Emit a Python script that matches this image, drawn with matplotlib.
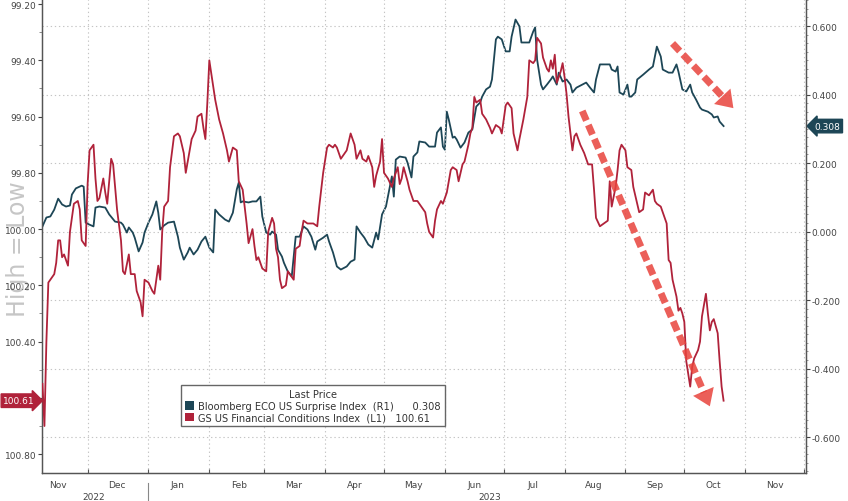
import numpy as np
import pandas as pd
import matplotlib
matplotlib.use('Agg')
import matplotlib.pyplot as plt
import matplotlib.dates as mdates
import matplotlib.transforms as mtransforms
from matplotlib.patches import Patch

# GS US Financial Conditions Index (left axis, inverted)
red_dates = [
    '2022-11-08', '2022-11-09', '2022-11-10', '2022-11-11', '2022-11-14', '2022-11-15', '2022-11-16',
    '2022-11-17', '2022-11-18', '2022-11-19', '2022-11-21', '2022-11-22', '2022-11-24', '2022-11-26',
    '2022-11-27', '2022-11-28', '2022-11-30', '2022-12-01', '2022-12-02', '2022-12-04', '2022-12-05',
    '2022-12-06', '2022-12-07', '2022-12-09', '2022-12-10', '2022-12-11', '2022-12-13', '2022-12-14',
    '2022-12-16', '2022-12-18', '2022-12-19', '2022-12-20', '2022-12-22', '2022-12-23', '2022-12-25',
    '2022-12-26', '2022-12-28', '2022-12-29', '2022-12-30', '2023-01-01', '2023-01-03', '2023-01-04',
    '2023-01-06', '2023-01-07', '2023-01-08', '2023-01-09', '2023-01-11', '2023-01-12', '2023-01-14',
    '2023-01-16', '2023-01-17', '2023-01-19', '2023-01-20', '2023-01-21', '2023-01-23', '2023-01-25',
    '2023-01-26', '2023-01-28', '2023-01-29', '2023-01-30', '2023-01-31', '2023-02-01', '2023-02-04',
    '2023-02-06', '2023-02-08', '2023-02-10', '2023-02-11', '2023-02-13', '2023-02-15', '2023-02-16',
    '2023-02-18', '2023-02-20', '2023-02-21', '2023-02-23', '2023-02-24', '2023-02-25', '2023-02-26',
    '2023-02-28', '2023-03-02', '2023-03-03', '2023-03-05', '2023-03-06', '2023-03-07', '2023-03-08',
    '2023-03-09', '2023-03-10', '2023-03-12', '2023-03-13', '2023-03-15', '2023-03-16', '2023-03-17',
    '2023-03-19', '2023-03-20', '2023-03-21', '2023-03-23', '2023-03-24', '2023-03-26', '2023-03-28',
    '2023-03-29', '2023-03-31', '2023-04-02', '2023-04-03', '2023-04-05', '2023-04-06', '2023-04-07',
    '2023-04-09', '2023-04-11', '2023-04-12', '2023-04-14', '2023-04-15', '2023-04-16', '2023-04-17',
    '2023-04-19', '2023-04-20', '2023-04-22', '2023-04-23', '2023-04-25', '2023-04-26', '2023-04-27',
    '2023-04-29', '2023-04-30', '2023-05-01', '2023-05-02', '2023-05-03', '2023-05-05', '2023-05-06',
    '2023-05-08', '2023-05-09', '2023-05-10', '2023-05-11', '2023-05-13', '2023-05-14', '2023-05-16',
    '2023-05-18', '2023-05-20', '2023-05-22', '2023-05-23', '2023-05-24', '2023-05-26', '2023-05-27',
    '2023-05-28', '2023-05-30', '2023-05-31', '2023-06-02', '2023-06-03', '2023-06-04', '2023-06-05',
    '2023-06-07', '2023-06-08', '2023-06-10', '2023-06-11', '2023-06-13', '2023-06-14', '2023-06-15',
    '2023-06-16', '2023-06-17', '2023-06-19', '2023-06-20', '2023-06-22', '2023-06-24', '2023-06-25',
    '2023-06-27', '2023-06-29', '2023-06-30', '2023-07-02', '2023-07-03', '2023-07-05', '2023-07-06',
    '2023-07-08', '2023-07-09', '2023-07-11', '2023-07-13', '2023-07-14', '2023-07-16', '2023-07-17',
    '2023-07-18', '2023-07-20', '2023-07-21', '2023-07-23', '2023-07-24', '2023-07-25', '2023-07-26',
    '2023-07-27', '2023-07-28', '2023-07-30', '2023-07-31', '2023-08-01', '2023-08-02', '2023-08-03',
    '2023-08-05', '2023-08-06', '2023-08-07', '2023-08-09', '2023-08-11', '2023-08-13', '2023-08-15',
    '2023-08-16', '2023-08-17', '2023-08-19', '2023-08-21', '2023-08-23', '2023-08-24', '2023-08-25',
    '2023-08-27', '2023-08-28', '2023-08-29', '2023-08-30', '2023-09-01', '2023-09-02', '2023-09-04',
    '2023-09-05', '2023-09-07', '2023-09-08', '2023-09-10', '2023-09-11', '2023-09-13', '2023-09-15',
    '2023-09-16', '2023-09-17', '2023-09-19', '2023-09-20', '2023-09-22', '2023-09-23', '2023-09-24',
    '2023-09-25', '2023-09-27', '2023-09-28', '2023-09-29', '2023-09-30', '2023-10-01', '2023-10-02',
    '2023-10-04', '2023-10-05', '2023-10-06', '2023-10-08', '2023-10-09', '2023-10-10', '2023-10-12',
    '2023-10-13', '2023-10-14', '2023-10-15', '2023-10-16', '2023-10-18', '2023-10-19', '2023-10-20',
    '2023-10-21',
]
red_vals = [
    100.55, 100.70, 100.40, 100.19, 100.16, 100.12, 100.04,
    100.04, 100.10, 100.09, 100.13, 100.01, 99.91, 99.90,
    99.93, 100.04, 100.06, 99.84, 99.72, 99.70, 99.82,
    99.90, 99.89, 99.82, 99.87, 99.91, 99.75, 99.77,
    99.93, 100.04, 100.15, 100.16, 100.09, 100.16, 100.16,
    100.22, 100.26, 100.31, 100.18, 100.19, 100.22, 100.23,
    100.13, 100.18, 100.01, 99.92, 99.90, 99.78, 99.67,
    99.66, 99.67, 99.73, 99.80, 99.76, 99.68, 99.65,
    99.60, 99.59, 99.64, 99.68, 99.55, 99.40, 99.54,
    99.61, 99.66, 99.72, 99.76, 99.71, 99.72, 99.83,
    99.86, 99.98, 100.05, 100.00, 100.06, 100.11, 100.10,
    100.14, 100.15, 100.01, 99.96, 99.98, 100.07, 100.10,
    100.18, 100.21, 100.20, 100.15, 100.17, 100.18, 100.07,
    100.06, 100.01, 99.97, 99.98, 99.98, 99.98, 99.99,
    99.92, 99.80, 99.71, 99.70, 99.71, 99.70, 99.71,
    99.75, 99.73, 99.72, 99.66, 99.68, 99.70, 99.75,
    99.72, 99.75, 99.76, 99.74, 99.78, 99.85, 99.81,
    99.76, 99.68, 99.80, 99.81, 99.82, 99.85, 99.82,
    99.78, 99.84, 99.82, 99.78, 99.83, 99.86, 99.90,
    99.90, 99.92, 99.94, 99.98, 100.01, 100.03, 99.97,
    99.93, 99.90, 99.91, 99.87, 99.83, 99.79, 99.78,
    99.79, 99.83, 99.77, 99.76, 99.70, 99.66, 99.64,
    99.53, 99.55, 99.54, 99.59, 99.61, 99.64, 99.66,
    99.63, 99.64, 99.66, 99.56, 99.55, 99.57, 99.66,
    99.72, 99.68, 99.61, 99.53, 99.40, 99.41, 99.40,
    99.32, 99.34, 99.39, 99.43, 99.44, 99.40, 99.43,
    99.38, 99.48, 99.44, 99.41, 99.46, 99.52, 99.60,
    99.72, 99.67, 99.66, 99.70, 99.73, 99.77, 99.77,
    99.86, 99.96, 99.99, 99.98, 99.97, 99.83, 99.92,
    99.85, 99.79, 99.72, 99.70, 99.72, 99.78, 99.79,
    99.85, 99.91, 99.94, 99.93, 99.87, 99.88, 99.86,
    99.90, 99.91, 99.92, 99.94, 99.98, 100.11, 100.12,
    100.18, 100.24, 100.29, 100.28, 100.30, 100.33, 100.47,
    100.56, 100.49, 100.46, 100.43, 100.40, 100.31, 100.23,
    100.30, 100.36, 100.33, 100.32, 100.37, 100.47, 100.56,
    100.61,
]

# Bloomberg ECO US Surprise Index (right axis)
blue_dates = [
    '2022-11-08', '2022-11-10', '2022-11-12', '2022-11-14', '2022-11-16', '2022-11-18', '2022-11-20',
    '2022-11-22', '2022-11-23', '2022-11-25', '2022-11-28', '2022-11-29', '2022-11-30', '2022-12-02',
    '2022-12-04', '2022-12-05', '2022-12-07', '2022-12-10', '2022-12-12', '2022-12-15', '2022-12-18',
    '2022-12-19', '2022-12-21', '2022-12-22', '2022-12-24', '2022-12-25', '2022-12-27', '2022-12-29',
    '2022-12-30', '2023-01-01', '2023-01-03', '2023-01-05', '2023-01-06', '2023-01-07', '2023-01-09',
    '2023-01-11', '2023-01-14', '2023-01-16', '2023-01-17', '2023-01-19', '2023-01-21', '2023-01-22',
    '2023-01-24', '2023-01-26', '2023-01-28', '2023-01-30', '2023-02-01', '2023-02-03', '2023-02-04',
    '2023-02-06', '2023-02-09', '2023-02-11', '2023-02-13', '2023-02-15', '2023-02-16', '2023-02-17',
    '2023-02-18', '2023-02-21', '2023-02-23', '2023-02-25', '2023-02-27', '2023-02-28', '2023-03-02',
    '2023-03-04', '2023-03-05', '2023-03-07', '2023-03-08', '2023-03-10', '2023-03-11', '2023-03-13',
    '2023-03-15', '2023-03-16', '2023-03-17', '2023-03-19', '2023-03-21', '2023-03-23', '2023-03-25',
    '2023-03-27', '2023-03-28', '2023-03-31', '2023-04-02', '2023-04-03', '2023-04-05', '2023-04-07',
    '2023-04-09', '2023-04-12', '2023-04-14', '2023-04-16', '2023-04-17', '2023-04-19', '2023-04-21',
    '2023-04-23', '2023-04-25', '2023-04-27', '2023-04-28', '2023-04-30', '2023-05-02', '2023-05-03',
    '2023-05-05', '2023-05-06', '2023-05-07', '2023-05-09', '2023-05-12', '2023-05-13', '2023-05-15',
    '2023-05-16', '2023-05-18', '2023-05-19', '2023-05-22', '2023-05-24', '2023-05-27', '2023-05-28',
    '2023-05-30', '2023-05-31', '2023-06-01', '2023-06-02', '2023-06-03', '2023-06-05', '2023-06-06',
    '2023-06-07', '2023-06-09', '2023-06-11', '2023-06-13', '2023-06-15', '2023-06-17', '2023-06-19',
    '2023-06-20', '2023-06-22', '2023-06-24', '2023-06-25', '2023-06-27', '2023-06-28', '2023-06-30',
    '2023-07-02', '2023-07-04', '2023-07-05', '2023-07-07', '2023-07-09', '2023-07-10', '2023-07-12',
    '2023-07-14', '2023-07-16', '2023-07-17', '2023-07-18', '2023-07-20', '2023-07-21', '2023-07-23',
    '2023-07-25', '2023-07-26', '2023-07-28', '2023-07-29', '2023-07-31', '2023-08-02', '2023-08-04',
    '2023-08-05', '2023-08-07', '2023-08-10', '2023-08-12', '2023-08-14', '2023-08-16', '2023-08-17',
    '2023-08-19', '2023-08-21', '2023-08-24', '2023-08-25', '2023-08-27', '2023-08-28', '2023-08-29',
    '2023-08-31', '2023-09-02', '2023-09-03', '2023-09-04', '2023-09-06', '2023-09-07', '2023-09-10',
    '2023-09-13', '2023-09-15', '2023-09-16', '2023-09-17', '2023-09-19', '2023-09-20', '2023-09-23',
    '2023-09-25', '2023-09-27', '2023-09-28', '2023-09-30', '2023-10-02', '2023-10-04', '2023-10-05',
    '2023-10-07', '2023-10-09', '2023-10-10', '2023-10-13', '2023-10-15', '2023-10-16', '2023-10-18',
    '2023-10-19', '2023-10-21',
]
blue_vals = [
    0.015, 0.041, 0.044, 0.064, 0.096, 0.079, 0.073,
    0.076, 0.108, 0.126, 0.134, 0.131, 0.026, 0.020,
    0.015, 0.070, 0.073, 0.070, 0.050, 0.029, 0.026,
    0.020, -0.003, 0.012, -0.003, -0.018, -0.058, -0.032,
    -0.003, 0.026, 0.050, 0.088, 0.055, 0.006, 0.018,
    0.026, 0.029, -0.015, -0.047, -0.082, -0.061, -0.047,
    -0.067, -0.053, -0.029, -0.015, -0.047, -0.061, 0.064,
    0.050, 0.035, 0.029, 0.055, 0.123, 0.143, 0.085,
    0.088, 0.085, 0.088, 0.088, 0.102, 0.044, -0.003,
    -0.009, 0.000, -0.009, -0.053, -0.073, -0.091, -0.117,
    -0.131, -0.073, -0.015, -0.015, 0.015, 0.006, -0.015,
    -0.053, -0.029, -0.018, -0.009, -0.029, -0.061, -0.102,
    -0.111, -0.102, -0.088, -0.082, 0.015, -0.003, -0.018,
    -0.038, -0.047, -0.003, -0.023, 0.050, 0.073, 0.102,
    0.161, 0.102, 0.210, 0.219, 0.216, 0.201, 0.158,
    0.219, 0.231, 0.263, 0.260, 0.248, 0.248, 0.289,
    0.304, 0.248, 0.239, 0.350, 0.327, 0.274, 0.277,
    0.269, 0.245, 0.260, 0.289, 0.298, 0.365, 0.377,
    0.394, 0.415, 0.423, 0.444, 0.561, 0.569, 0.561,
    0.526, 0.526, 0.569, 0.619, 0.599, 0.552, 0.552,
    0.552, 0.584, 0.596, 0.502, 0.429, 0.415, 0.429,
    0.444, 0.453, 0.429, 0.464, 0.438, 0.444, 0.429,
    0.406, 0.420, 0.429, 0.435, 0.420, 0.406, 0.444,
    0.488, 0.488, 0.488, 0.473, 0.467, 0.482, 0.406,
    0.400, 0.429, 0.394, 0.394, 0.406, 0.444, 0.458,
    0.473, 0.482, 0.511, 0.540, 0.511, 0.473, 0.464,
    0.464, 0.488, 0.467, 0.415, 0.409, 0.429, 0.406,
    0.385, 0.362, 0.356, 0.350, 0.342, 0.333, 0.336,
    0.321, 0.308,
]

red_name = 'GS US Financial Conditions Index'
blue_name = 'Bloomberg ECO US Surprise Index'
left_ticks = [99.2, 99.4, 99.6, 99.8, 100.0, 100.2, 100.4, 100.6, 100.8]
right_ticks = [-0.6, -0.4, -0.2, 0.0, 0.2, 0.4, 0.6]

RED = '#b0223a'
BLUE = '#1d4656'
ARROW = '#e8433c'

red_x = pd.to_datetime(red_dates)
blue_x = pd.to_datetime(blue_dates)

fig = plt.figure(figsize=(8.48, 5.02), dpi=100)
ax = fig.add_axes([0.0495, 0.0558, 0.901, 0.9442])
ax2 = ax.twinx()

ax.plot(red_x, red_vals, color=RED, lw=1.3, zorder=3)
ax2.plot(blue_x, blue_vals, color=BLUE, lw=1.3, zorder=3)

ax.set_xlim(pd.Timestamp('2022-11-07 18:00'), pd.Timestamp('2023-12-02'))
ax.set_ylim(100.867, 99.182)
ax2.set_ylim(-0.705, 0.679)

# axes / ticks
for a in (ax, ax2):
    for s in a.spines.values():
        s.set_color('#555555')
        s.set_linewidth(0.9)
    a.spines['top'].set_visible(False)

ax.set_yticks(left_ticks)
ax.set_yticklabels([f'{v:.2f}' for v in left_ticks])
ax.set_yticks([v + 0.1 for v in left_ticks[:-1]], minor=True)
ax.tick_params(axis='y', which='major', direction='out', length=3, labelsize=6.5,
               labelcolor='#444444', color='#444444', pad=1)
ax.tick_params(axis='y', which='minor', direction='out', length=2, color='#777777')

ax2.set_yticks(right_ticks)
ax2.set_yticklabels([f'{v:.3f}' for v in right_ticks])
ax2.set_yticks([i * 0.025 - 0.7 for i in range(56)], minor=True)
ax2.tick_params(axis='y', which='major', direction='out', length=3, labelsize=6.5,
                labelcolor='#444444', color='#444444', pad=1)
ax2.tick_params(axis='y', which='minor', direction='out', length=1.5, color='#888888')

ax.xaxis.set_major_locator(mdates.MonthLocator())
ax.xaxis.set_major_formatter(plt.NullFormatter())
ax.xaxis.set_minor_locator(mdates.MonthLocator(bymonthday=16))
ax.xaxis.set_minor_formatter(mdates.DateFormatter('%b'))
ax.tick_params(axis='x', which='major', direction='in', length=3, color='#555555')
ax.tick_params(axis='x', which='minor', length=0, labelsize=6.5, labelcolor='#444444', pad=5)

# grid
ax.grid(axis='x', which='major', color='#c4c4c4', ls=(0, (1.2, 2.5)), lw=0.8)
ax2.grid(axis='y', which='major', color='#c4c4c4', ls=(0, (1.2, 2.5)), lw=0.8)
ax.set_zorder(ax2.get_zorder() + 1)
ax.patch.set_visible(False)

# year labels below the months
trans = mtransforms.blended_transform_factory(ax.transData, ax.transAxes)
ax.text(pd.Timestamp('2022-12-04'), -0.049, '2022', transform=trans, ha='center', va='center',
        fontsize=6.5, color='#444444')
ax.text(pd.Timestamp('2023-06-24'), -0.049, '2023', transform=trans, ha='center', va='center',
        fontsize=6.5, color='#444444')
ax.plot([pd.Timestamp('2023-01-01')] * 2, [-0.022, -0.06], transform=trans, color='#888888',
        lw=0.8, clip_on=False)

# last value tags on both axes
ax.annotate(f'{red_vals[-1]:.2f}', xy=(0, red_vals[-1]), xycoords=('axes fraction', 'data'),
            xytext=(-5, 0), textcoords='offset points', ha='right', va='center',
            fontsize=6.5, color='white',
            bbox=dict(boxstyle='rarrow,pad=0.25', fc=RED, ec=RED))
ax2.annotate(f'{blue_vals[-1]:.3f}', xy=(1, blue_vals[-1]), xycoords=('axes fraction', 'data'),
             xytext=(6, 0), textcoords='offset points', ha='left', va='center',
             fontsize=6.5, color='white',
             bbox=dict(boxstyle='larrow,pad=0.25', fc=BLUE, ec=BLUE))

# "High = Low" watermark on the left
fig.text(0.021, 0.503, 'High = Low', rotation=90, ha='center', va='center',
         fontsize=17, color='#c6c6c6', zorder=0)

# red dashed trend arrows: dashed shaft plus a solid head
arrows = [
    (('2023-09-25', 99.34), ('2023-10-26', 99.57)),
    (('2023-08-10', 99.58), ('2023-10-14', 100.63)),
]
head_px = 15
for (d0, v0), (d1, v1) in arrows:
    start = (mdates.date2num(pd.Timestamp(d0)), v0)
    tip = (mdates.date2num(pd.Timestamp(d1)), v1)
    p0 = ax.transData.transform(start)
    p1 = ax.transData.transform(tip)
    u = (p1 - p0) / np.hypot(*(p1 - p0))
    base = ax.transData.inverted().transform(p1 - u * head_px)
    back = ax.transData.inverted().transform(p1 - u * (head_px + 6))
    ax.plot([start[0], base[0]], [start[1], base[1]], color=ARROW, alpha=0.85, lw=5,
            ls=(0, (1.5, 0.7)), dash_capstyle='butt', zorder=6)
    ax.annotate('', xy=tip, xytext=tuple(back),
                arrowprops=dict(arrowstyle='-|>,head_length=0.65,head_width=0.45',
                                lw=0, color=ARROW, alpha=0.85,
                                shrinkA=0, shrinkB=0, mutation_scale=18), zorder=6)

# legend
handles = [Patch(fc=BLUE, ec='none'), Patch(fc=RED, ec='none')]
labels = [f'{blue_name}  (R1)      {blue_vals[-1]:.3f}',
          f'{red_name}  (L1)   {red_vals[-1]:.2f}']
leg = ax.legend(handles, labels, title='Last Price', loc='lower left',
                bbox_to_anchor=(0.176, 0.088), fontsize=7.1, title_fontsize=7.1,
                handlelength=0.9, handleheight=0.9, handletextpad=0.4,
                borderpad=0.4, labelspacing=0.15, frameon=True, fancybox=False,
                edgecolor='#666666', framealpha=1)
for t in leg.get_texts():
    t.set_color('#333333')
leg.get_title().set_color('#333333')
leg.set_zorder(10)

fig.savefig('out.png', dpi=100)
